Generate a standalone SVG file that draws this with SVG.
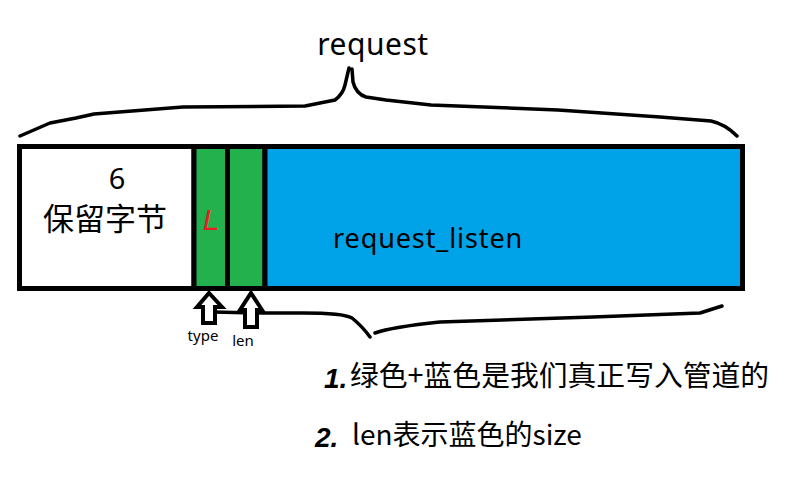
<svg xmlns="http://www.w3.org/2000/svg" width="794" height="488" viewBox="0 0 794 488">
<style>
.t{font-family:"Noto Sans","Noto Sans CJK SC",sans-serif;fill:#000}
.cjk{font-family:"Noto Sans CJK SC","Noto Sans",sans-serif;fill:#000}
.cell{stroke:#000;stroke-width:5}
.brace{fill:none;stroke:#000;stroke-width:3.5;stroke-linecap:round;stroke-linejoin:round}
.arrow{fill:#fff;stroke:#000;stroke-width:4;stroke-linejoin:miter}
</style>
<rect width="794" height="488" fill="#fff"/>
<g id="connectors">
<path class="brace" d="M20 136 L50 123 L76 118 L94 114 L183 107 L305 106 L335 100 Q343 94 345 85 L349 68 M352 69 L353 82 Q356 94 366 97 L386 100 L431 105 L558 110 L660 117 L711 121 Q725 124 737 136"/>
<path class="brace" d="M213 312 L262 313 L303 313 Q343 313 352 318 Q362 326 370 337 M375 333 Q392 327 440 322 L593 317 L700 313 L722 306"/>
</g>
<g id="reserved">
<rect class="cell" x="19.5" y="146.5" width="174.5" height="142" fill="#fff"/>
<text class="t" x="117" y="189" font-size="29" text-anchor="middle">6</text>
<text class="cjk" x="105" y="230" font-size="31" text-anchor="middle">保留字节</text>
</g>
<g id="type">
<rect class="cell" x="194" y="146.5" width="33.5" height="142" fill="#22B14C"/>
<text x="211" y="230" font-family="Liberation Sans, sans-serif" font-size="30" fill="#ED1C24" text-anchor="middle" font-style="italic">L</text>
</g>
<g id="len">
<rect class="cell" x="227.5" y="146.5" width="37.5" height="142" fill="#22B14C"/>
</g>
<g id="request_listen">
<rect class="cell" x="265" y="146.5" width="477.5" height="142" fill="#00A2E8"/>
<text class="t" x="333" y="248" font-size="27" letter-spacing="0.9">request_listen</text>
</g>
<g id="request">
<text class="t" x="373" y="55" font-size="30" text-anchor="middle" letter-spacing="0.5">request</text>
</g>
<g id="type_arrow">
<polygon class="arrow" points="209,293 222,307 215,307 215,323 203,323 203,307 197,307"/>
<text class="t" x="203" y="341" font-size="15" text-anchor="middle">type</text>
</g>
<g id="len_arrow">
<polygon class="arrow" points="251,293 262,310 257,310 257,327 245,327 245,310 240,310"/>
<text class="t" x="243" y="346" font-size="15" text-anchor="middle">len</text>
</g>
<g id="notes">
<text x="324" y="388" font-family="Liberation Sans, sans-serif" font-size="28" font-weight="bold" font-style="italic">1.</text>
<text class="cjk" x="350" y="386" font-size="28.8">绿色+蓝色是我们真正写入管道的</text>
<text x="315" y="447" font-family="Liberation Sans, sans-serif" font-size="28" font-weight="bold" font-style="italic">2.</text>
<text class="cjk" x="352" y="445" font-size="28">len表示蓝色的size</text>
</g>
</svg>
